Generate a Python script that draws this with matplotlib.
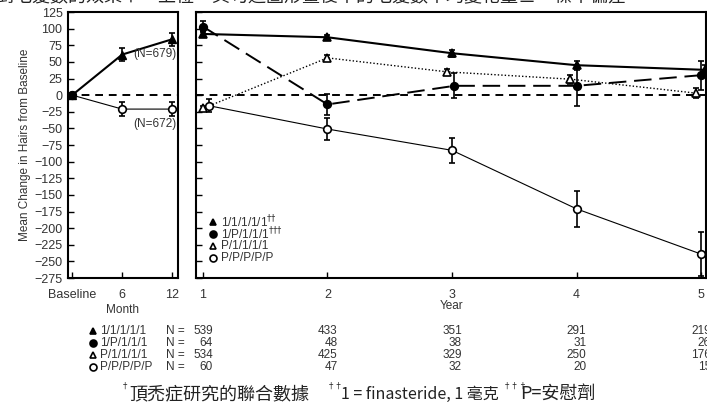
import matplotlib
matplotlib.use("Agg")
import matplotlib.pyplot as plt
import matplotlib.transforms as mtransforms
from matplotlib.lines import Line2D

W, H, DPI = 707, 411, 100

# values
month_ticks = [0, 6, 12]
month_labels = ["Baseline", "6", "12"]
month_fin = [0, 61, 84]
month_fin_err = [0, 10, 10]
month_pla = [0, -21, -21]
month_pla_err = [0, 10, 10]

years = [1, 2, 3, 4, 5]
grp_names = ["1/1/1/1/1", "1/P/1/1/1", "P/1/1/1/1", "P/P/P/P/P"]
grp_marks = [r"$^{††}$", r"$^{†††}$", "", ""]
grp_1111 = [92, 87, 63, 45, 38]
grp_1111_err = [5, 4, 5, 7, 8]
grp_1p111 = [103, -14, 14, 14, 30]
grp_1p111_err = [8, 16, 19, 30, 22]
grp_p1111 = [-20, 56, 35, 24, 3]
grp_p1111_err = [4, 5, 5, 7, 7]
grp_ppppp = [-16, -51, -83, -171, -239]
grp_ppppp_err = [10, 16, 19, 27, 33]

n_base = [539, 64, 534, 60]
n_years = [[433, 351, 291, 219],
           [48, 38, 31, 26],
           [425, 329, 250, 176],
           [47, 32, 20, 15]]

top_note = "對毛髮數的效果†。上位，其句這圖形畫後平的毛髮數平均變化量±，標準偏差"
foot_parts = ["頂禿症研究的聯合數據", "1 = finasteride, 1 毫克", "P=安慰劑"]
foot_marks = ["†", "††", "†††"]

TXT = "#333333"
INK = "#222222"
CJK = ["Noto Sans CJK TC", "DejaVu Sans"]
plt.rcParams["font.family"] = ["Liberation Sans", "DejaVu Sans"]


def fx(px):
    return px / W


def fy(py):
    return 1 - py / H


fig = plt.figure(figsize=(W / DPI, H / DPI), dpi=DPI)
ax1 = fig.add_axes([fx(68), fy(278), fx(178) - fx(68), fy(12) - fy(278)])
ax2 = fig.add_axes([fx(196), fy(278), fx(706) - fx(196), fy(12) - fy(278)])

for ax in (ax1, ax2):
    ax.set_ylim(-275, 125)
    ax.set_yticks(range(-275, 126, 25))
    ax.axhline(0, color="black", lw=1.4, ls=(0, (4, 3)), zorder=1)
    ax.tick_params(direction="in", length=4, width=1, colors="black",
                   labelcolor=TXT, labelsize=9, pad=8)
    ax.tick_params(axis="y", pad=4)
    for s in ax.spines.values():
        s.set_linewidth(1.5)

eb = dict(color="black", capsize=2.5, elinewidth=1.2, capthick=1.2, markersize=5.5)

# left panel: months
ax1.set_xlim(-0.5, 12.7)
ax1.set_xticks(month_ticks)
ax1.set_xticklabels(month_labels)
ax1.errorbar(month_ticks, month_fin, yerr=month_fin_err, marker="^", lw=1.5,
             mfc="black", **eb)
ax1.errorbar(month_ticks, month_pla, yerr=month_pla_err, marker="o", lw=0.8,
             mfc="white", mew=1.2, **eb)
ax1.plot([0], [0], marker="o", color="black", ms=5.5, zorder=5)
ax1.text(12.5, 62, "(N=679)", ha="right", va="center", fontsize=8.5, color=TXT)
ax1.text(12.5, -43, "(N=672)", ha="right", va="center", fontsize=8.5, color=TXT)
ax1.set_ylabel("Mean Change in Hairs from Baseline", fontsize=8.5, color=TXT, labelpad=2)

# right panel: years
ax2.set_xlim(0.944, 5.04)
ax2.set_xticks(years)
ax2.set_yticklabels([])

series = [
    (grp_1111, grp_1111_err, "^", "black", "-", 1.5, [0, 0, 0, 0, 0.03]),
    (grp_1p111, grp_1p111_err, "o", "black", (0, (9, 4)), 1.4, [0, 0, 0.02, 0, 0]),
    (grp_p1111, grp_p1111_err, "^", "white", (0, (1, 1.5)), 1.0, [0, 0, -0.04, -0.05, -0.04]),
    (grp_ppppp, grp_ppppp_err, "o", "white", "-", 0.8, [0.05, 0, 0, 0, 0]),
]
for vals, err, mk, fc, ls, lw, shift in series:
    xs = [y + d for y, d in zip(years, shift)]
    ax2.errorbar(xs, vals, yerr=err, marker=mk, mfc=fc, ls=ls, lw=lw, mew=1.2, **eb)

# legend, drawn row by row so the daggers do not spread the rows apart
leg_y = [222, 234, 246, 258]
for i, name in enumerate(grp_names):
    mk, fc = series[i][2], series[i][3]
    fig.add_artist(Line2D([fx(213)], [fy(leg_y[i])], marker=mk, mfc=fc, mec="black",
                          mew=1.2, ms=5, transform=fig.transFigure))
    fig.text(fx(221), fy(leg_y[i]), name + grp_marks[i], ha="left", va="center",
             fontsize=8.5, color=TXT)

# axis captions below the panels
t1 = mtransforms.blended_transform_factory(ax1.transData, fig.transFigure)
t2 = mtransforms.blended_transform_factory(ax2.transData, fig.transFigure)
ax1.text(6, fy(310), "Month", transform=t1, ha="center", va="center",
         fontsize=8.5, color=TXT)
ax2.text(3, fy(306), "Year", transform=t2, ha="center", va="center",
         fontsize=8.5, color=TXT)

# N table
row_y = [331, 343, 355, 367]
right_shift = mtransforms.ScaledTranslation(10 / DPI, 0, fig.dpi_scale_trans)
for i, name in enumerate(grp_names):
    mk, fc = series[i][2], series[i][3]
    fig.add_artist(Line2D([fx(93)], [fy(row_y[i])], marker=mk, mfc=fc, mec="black",
                          mew=1.2, ms=5, transform=fig.transFigure))
    fig.text(fx(100), fy(row_y[i]), name, ha="left", va="center", fontsize=8.5, color=TXT)
    fig.text(fx(166), fy(row_y[i]), "N =", ha="left", va="center", fontsize=8.5, color=TXT)
    fig.text(fx(213), fy(row_y[i]), str(n_base[i]), ha="right", va="center",
             fontsize=8.5, color=TXT)
    for yr, n in zip(years[1:], n_years[i]):
        fig.text(yr, fy(row_y[i]), str(n), transform=t2 + right_shift,
                 ha="right", va="center", fontsize=8.5, color=TXT)

# footnote: each part placed after the measured end of the previous one
renderer = fig.canvas.get_renderer()
foot_y = fy(394)
x = 121
gaps = [(0, 8), (18, 14), (4, 17)]  # (before dagger, dagger to text)
for mark, part, (g1, g2), size in zip(foot_marks, foot_parts, gaps, [13, 11.5, 13]):
    x += g1
    fig.text(fx(x), fy(386), mark, fontsize=6, color=INK, family=CJK, va="center")
    x += g2
    t = fig.text(fx(x), foot_y, part, fontsize=size, color=INK, family=CJK, va="center")
    x = t.get_window_extent(renderer).x1

# caption cut off by the top edge
fig.text(fx(-4), fy(2), top_note, fontsize=13, color=INK, family=CJK,
         va="baseline")

fig.savefig("out.png", dpi=DPI, facecolor="white")
